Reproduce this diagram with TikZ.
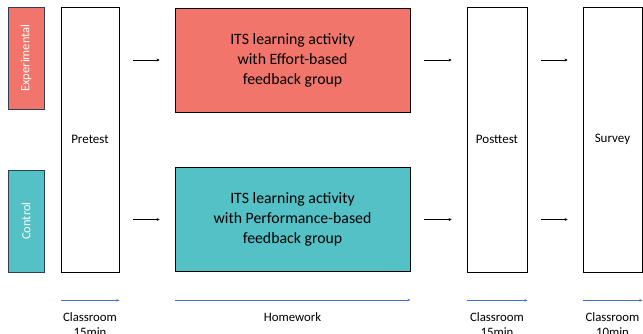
\documentclass[tikz,border=0pt]{standalone}
\usepackage{fontspec}
\setmainfont{Carlito}
\usetikzlibrary{arrows.meta}

\definecolor{expred}{HTML}{F1756A}
\definecolor{ctrlteal}{HTML}{53C1C6}
\definecolor{groupedge}{HTML}{2E3F55}
\definecolor{timeblue}{HTML}{4472C4}

\begin{document}
\begin{tikzpicture}[x=1pt, y=-1pt]

            \tikzstyle{groupnode} = [draw=groupedge, line width=0.8pt, minimum width=102pt, minimum height=36pt, inner sep=0, rotate=90, text=white, font=\fontsize{12.5}{14}\selectfont];
            \tikzstyle{stagenode} = [draw, line width=0.8pt, minimum width=58pt, minimum height=265pt, inner sep=0, font=\fontsize{13}{14}\selectfont];
            \tikzstyle{activitynode} = [draw, line width=0.8pt, minimum width=235pt, minimum height=104pt, inner sep=0, align=center, font=\fontsize{15.8}{20}\selectfont];
            \tikzstyle{arrow} = [line width=0.6pt, -{Stealth[length=3pt, width=3pt]}, shorten <=14pt, shorten >=15pt];
            \tikzstyle{timeline} = [timeblue, line width=0.7pt, -{Stealth[length=3pt, width=2.5pt]}];
            \tikzstyle{timelabel} = [below=9pt, align=center, font=\fontsize{12.8}{15}\selectfont, text=black];

            \useasboundingbox (0,0) rectangle (643,333);

            \node[groupnode, fill=expred] (exp) at (26,58) {Experimental};
            \node[groupnode, fill=ctrlteal] (ctrl) at (26,221) {Control};

            \node[stagenode] (pre) at (90,139.5) {Pretest};
            \node[activitynode, fill=expred] (its1) at (292.5,60) {ITS learning activity\\with Effort-based\\feedback group};
            \node[activitynode, fill=ctrlteal] (its2) at (292.5,219.5) {ITS learning activity\\with Performance-based\\feedback group};
            \node[stagenode, minimum width=60pt] (post) at (497,139.5) {Posttest};
            \node[stagenode, minimum width=59pt] (survey) at (612.5,139.5) {Survey};

            \draw[arrow] (pre.east |- its1.west) -- (its1.west);
            \draw[arrow] (pre.east |- its2.west) -- (its2.west);
            \draw[arrow] (its1.east) -- (post.west |- its1.east);
            \draw[arrow] (its2.east) -- (post.west |- its2.east);
            \draw[arrow] (post.east |- its1.east) -- (survey.west |- its1.east);
            \draw[arrow] (post.east |- its2.east) -- (survey.west |- its2.east);

            \draw[timeline] ([yshift=-28pt]pre.south west) -- ([yshift=-28pt]pre.south east) node[timelabel, midway] {Classroom\\15min};
            \draw[timeline] ([yshift=-28pt]its2.south west) -- ([yshift=-28pt]its2.south east) node[timelabel, midway] {Homework};
            \draw[timeline] ([yshift=-28pt]post.south west) -- ([yshift=-28pt]post.south east) node[timelabel, midway] {Classroom\\15min};
            \draw[timeline] ([yshift=-28pt]survey.south west) -- ([yshift=-28pt]survey.south east) node[timelabel, midway] {Classroom\\10min};

        \end{tikzpicture}
\end{document}
